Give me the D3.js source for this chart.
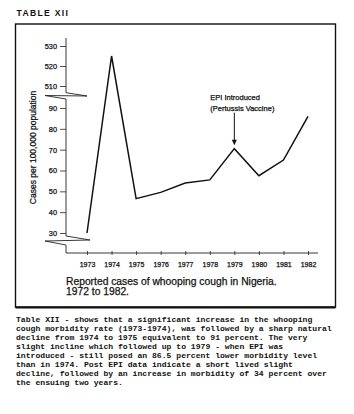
<!DOCTYPE html>
<html>
<head>
<meta charset="utf-8">
<script src="https://cdn.jsdelivr.net/npm/d3@7"></script>
<style>
  body { margin: 0; background: #fff; }
  #chart text { fill: #111; }
  #chart text.heavy { stroke: #111; stroke-width: 0.25px; }
</style>
</head>
<body>
<div id="chart"></div>
<script>
//### DATA ###
const years = [ 1973, 1974, 1975, 1976, 1977, 1978, 1979, 1980, 1981, 1982 ];
const cases = [ 30, 525, 46.5, 49.5, 54, 55.5, 70.5, 57.5, 65, 86 ];
const lowerTicks = [ 30, 40, 50, 60, 70, 80, 90 ];
const upperTicks = [ 510, 520, 530 ];
const epiYear = 1979;
const noteLines = [ 'EPI Introduced', '(Pertussis Vaccine)' ];
const captionLines = [ 'Reported cases of whooping cough in Nigeria.', '1972 to 1982.' ];
const paragraph = [
  'Table XII - shows that a significant increase in the whooping',
  'cough morbidity rate (1973-1974), was followed by a sharp natural',
  'decline from 1974 to 1975 equivalent to 91 percent. The very',
  'slight incline which followed up to 1979 - when EPI was',
  'introduced - still posed an 86.5 percent lower morbidity level',
  'than in 1974. Post EPI data indicate a short lived slight',
  'decline, followed by an increase in morbidity of 34 percent over',
  'the ensuing two years.'
];

//_____ LAYOUT _____
const W = 354, H = 414;
const sans = '"Liberation Sans", Arial, sans-serif';
const mono = '"Liberation Mono", "Courier New", monospace';
const axisX = 66;

const svg = d3.select( '#chart' ).append( 'svg' )
  .attr( 'width', W )
  .attr( 'height', H );

//_____ SCALES _____
const xScale = d3.scaleLinear()
  .domain( [ 1973, 1982 ] )
  .range( [ 87, 308 ] );

//>>> broken axis: lower part 30-90, upper part 510-530
const yScale = d3.scaleLinear()
  .domain( [ 30, 90, 510, 530 ] )
  .range( [ 233, 108, 86, 46 ] );

//_____ FRAME + TITLE _____
svg.append( 'text' )
  .attr( 'x', 16.5 )
  .attr( 'y', 15.8 )
  .style( 'font-family', sans )
  .style( 'font-size', '8.6px' )
  .style( 'font-weight', 'bold' )
  .style( 'letter-spacing', '1.3px' )
  .text( 'TABLE XII' );

svg.append( 'rect' )
  .attr( 'x', 15.5 )
  .attr( 'y', 24 )
  .attr( 'width', 320 )
  .attr( 'height', 283 )
  .attr( 'fill', 'none' )
  .attr( 'stroke', '#111' )
  .attr( 'stroke-width', 1.4 );

svg.append( 'line' )
  .attr( 'x1', 15.5 ).attr( 'x2', 335.5 )
  .attr( 'y1', 307.5 ).attr( 'y2', 307.5 )
  .attr( 'stroke', '#111' )
  .attr( 'stroke-width', 2.2 );

//_____ Y AXIS _____
const yAxis = d3.axisLeft( yScale )
  .tickSize( 6 )
  .tickPadding( 3 );

[ lowerTicks, upperTicks ].forEach( ticks => {
  const g = svg.append( 'g' )
    .attr( 'transform', `translate( ${axisX}, 0 )` )
    .style( 'font-family', sans )
    .style( 'font-size', '7.4px' )
    .call( yAxis.tickValues( ticks ).tickFormat( d3.format( 'd' ) ) );
  g.select( '.domain' ).remove();
  g.selectAll( 'text' ).attr( 'class', 'heavy' );
  g.selectAll( 'line' ).attr( 'stroke', '#222' ).attr( 'stroke-width', 0.8 );
} );

//>>> axis segments and break marks
const upperBreak = ( yScale( 90 ) + yScale( 510 ) ) / 2 - 1;
const lowerBreak = yScale( 30 ) + 7.5;
const baseY = yScale( 30 ) + 20;

const axisPath = d3.path();
axisPath.moveTo( axisX, yScale( 535 ) + 2 );
axisPath.lineTo( axisX, upperBreak - 3.3 );
axisPath.lineTo( axisX + 21, upperBreak );
axisPath.lineTo( axisX - 21, upperBreak - 0.5 );
axisPath.lineTo( axisX, upperBreak + 3 );
axisPath.lineTo( axisX, lowerBreak - 4.5 );
axisPath.lineTo( axisX + 24, lowerBreak - 0.5 );
axisPath.lineTo( axisX - 21, lowerBreak + 0.5 );
axisPath.lineTo( axisX, lowerBreak + 4.5 );
axisPath.lineTo( axisX, baseY );

svg.append( 'path' )
  .attr( 'd', axisPath.toString() )
  .attr( 'fill', 'none' )
  .attr( 'stroke', '#222' )
  .attr( 'stroke-width', 0.9 );

//_____ X AXIS _____
const xAxis = d3.axisBottom( xScale )
  .tickValues( years )
  .tickFormat( d3.format( 'd' ) )
  .tickSize( 2 )
  .tickPadding( 7.5 );

const gx = svg.append( 'g' )
  .attr( 'transform', `translate( 0, ${baseY} )` )
  .style( 'font-family', sans )
  .style( 'font-size', '7px' )
  .call( xAxis );
gx.select( '.domain' ).remove();
gx.selectAll( 'text' ).attr( 'class', 'heavy' );
gx.selectAll( 'line' ).attr( 'y1', -2 ).attr( 'stroke', '#222' ).attr( 'stroke-width', 0.8 );

svg.append( 'line' )
  .attr( 'x1', axisX ).attr( 'x2', xScale( 1982 ) + 10 )
  .attr( 'y1', baseY ).attr( 'y2', baseY )
  .attr( 'stroke', '#222' )
  .attr( 'stroke-width', 0.9 );

//>>> y label
svg.append( 'text' )
  .attr( 'class', 'heavy' )
  .attr( 'transform', `translate( 36, ${( yScale( 30 ) + yScale( 530 ) ) / 2 + 8} ) rotate( -90 )` )
  .attr( 'text-anchor', 'middle' )
  .style( 'font-family', sans )
  .style( 'font-size', '8.5px' )
  .text( 'Cases per 100,000 population' );

//_____ LINE _____
const line = d3.line()
  .x( ( d, i ) => xScale( years[ i ] ) )
  .y( d => yScale( d ) );

svg.append( 'path' )
  .datum( cases )
  .attr( 'd', line )
  .attr( 'fill', 'none' )
  .attr( 'stroke', '#111' )
  .attr( 'stroke-width', 1.5 )
  .attr( 'stroke-linejoin', 'miter' );

//_____ EPI ANNOTATION _____
const epiX = xScale( epiYear );
const epiY = yScale( cases[ years.indexOf( epiYear ) ] );

svg.append( 'line' )
  .attr( 'x1', epiX ).attr( 'x2', epiX )
  .attr( 'y1', epiY - 36 ).attr( 'y2', epiY - 8 )
  .attr( 'stroke', '#111' )
  .attr( 'stroke-width', 1 );

svg.append( 'path' )
  .attr( 'd', `M${epiX - 2.5},${epiY - 9} L${epiX + 2.5},${epiY - 9} L${epiX},${epiY - 3.5} Z` )
  .attr( 'fill', '#111' );

svg.selectAll( '.note' )
  .data( noteLines )
  .enter().append( 'text' )
  .attr( 'class', 'note heavy' )
  .attr( 'x', epiX - 24 )
  .attr( 'y', ( d, i ) => epiY - 48.5 + i * 11 )
  .style( 'font-family', sans )
  .style( 'font-size', '7.5px' )
  .text( d => d );

//_____ CAPTION _____
svg.selectAll( '.caption' )
  .data( captionLines )
  .enter().append( 'text' )
  .attr( 'class', 'caption heavy' )
  .attr( 'x', 66 )
  .attr( 'y', ( d, i ) => 284.5 + i * 10 )
  .style( 'font-family', sans )
  .style( 'font-size', '10.3px' )
  .text( d => d );

//_____ PARAGRAPH _____
svg.selectAll( '.para' )
  .data( paragraph )
  .enter().append( 'text' )
  .attr( 'class', 'para' )
  .attr( 'x', 16 )
  .attr( 'y', ( d, i ) => 322 + i * 9 )
  .style( 'font-family', mono )
  .style( 'font-size', '8.1px' )
  .style( 'font-weight', 'bold' )
  .text( d => d );
</script>
</body>
</html>
